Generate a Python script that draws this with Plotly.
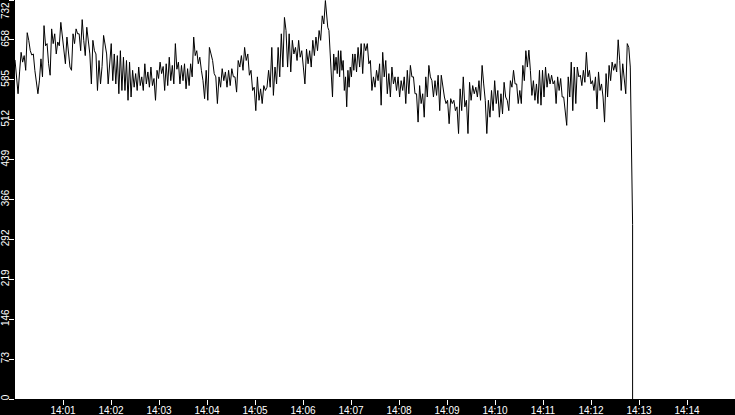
"""Rate trace 14:00-14:15, black-frame style."""

import pandas as pd
import plotly.graph_objects as go

# values, in time order, split into stretches whose
# start times were read off the time axis (seg_starts below)
seg_a = [622, 591, 560, 600, 636, 618, 630, 603, 672, 658, 639, 631, 633, 603,
         575, 560, 585, 624, 591, 685, 648, 652, 615, 594, 679, 652, 670, 633,
         655, 648, 691, 664, 639, 615, 664, 633, 609, 603, 670, 652, 679, 670,
         670, 639, 696, 658, 630, 682, 658, 633, 578, 658, 639, 633, 566, 621,
         578, 610, 667, 645, 633, 578, 620, 652, 584, 633, 578, 630, 560, 639,
         566, 627, 566, 621, 548, 618, 554, 603, 572, 597, 566, 609, 575, 591,
         566, 615, 578, 600, 572, 609, 575, 588, 548, 603, 588, 618, 597, 610,
         566, 615, 575, 627, 584, 612, 578, 652, 605, 618, 578, 612, 584, 615,
         569, 606, 575, 615, 591, 664, 630, 639, 615]
seg_b = [627, 603, 584, 551, 603, 548, 645, 633, 621, 597, 591, 542, 591, 572,
         606, 584, 600, 572, 603, 575, 606, 591, 591, 563, 621, 609, 630, 603,
         645, 621, 633, 594, 603, 566, 572, 529, 591, 548, 569, 542, 575, 566,
         572, 603, 572, 645, 557]
seg_c = [609, 578, 645, 591, 670, 609, 700, 676, 609, 670, 600, 658, 633, 645,
         621, 658, 627, 639, 609, 578, 642, 615, 639, 609, 658, 630, 664, 639,
         676, 658, 703, 688]
seg_d = [731, 707, 682, 676, 639, 609, 554, 633, 603, 627, 597, 639, 591, 639,
         603, 621, 566, 591, 536, 603, 572, 609, 591, 633, 603]
seg_e = [633, 600, 645, 609, 652, 597, 652, 639, 652, 615, 621, 566, 591, 572,
         603, 584, 615, 539, 636, 591, 621, 560, 597, 554, 609, 578, 591, 566,
         591, 554, 584, 566, 591, 542, 603, 560, 612, 591, 591, 560, 560, 508,
         575, 542, 560, 517, 591, 554, 612, 591, 584, 554]
seg_f = [584, 557, 594, 529, 594, 572, 554, 542, 548, 505, 551, 542, 548, 529,
         536, 487, 569, 529, 591, 536, 548, 487, 581, 548, 575, 560, 572, 554,
         584, 548, 612, 578, 548, 487, 548, 517, 566, 529, 584, 542, 566, 517,
         560, 523, 581, 554, 548, 529, 584, 572, 603, 578, 578, 542]
seg_g = [566, 542, 612, 584, 639, 609, 640, 603, 557, 584, 548, 578, 542, 603,
         539, 603, 554, 609, 572, 597, 578, 594, 578, 584, 542, 591, 566, 588,
         554, 554, 520, 502, 591, 554, 618, 529, 609, 542, 609, 591, 594, 575,
         603, 581, 636, 591, 603, 578, 584, 566, 591, 532, 600, 566, 578, 554,
         508, 597, 554, 612, 584, 618, 603, 615, 600, 659, 621, 566, 615, 591,
         560, 652, 645, 609]
seg_starts = ["14:00:00", "14:03:51", "14:05:25", "14:06:28", "14:07:05",
              "14:08:45", "14:10:31", "14:12:51"]  # last entry = end of seg_g
drop_time = "14:12:52"
drop_values = [320, 0]

x_tick_labels = ["14:01", "14:02", "14:03", "14:04", "14:05", "14:06", "14:07",
                 "14:08", "14:09", "14:10", "14:11", "14:12", "14:13", "14:14"]
y_tick_values = [0, 73.2, 146.4, 219.6, 292.8, 366, 439.2, 512.4, 585.6, 658.8, 732]
y_tick_labels = ["0", "73", "146", "219", "292", "366", "439", "512", "585", "658", "732"]

DAY = "2024-01-01 "
segments = [seg_a, seg_b, seg_c, seg_d, seg_e, seg_f, seg_g]
times, values = [], []
for i, seg in enumerate(segments):
    span = pd.date_range(DAY + seg_starts[i], DAY + seg_starts[i + 1], periods=len(seg) + 1)
    times.extend(span[:-1])
    values.extend(seg)
times.extend([pd.Timestamp(DAY + drop_time)] * len(drop_values))
values.extend(drop_values)

x_ticks = [pd.Timestamp(DAY + t) for t in x_tick_labels]

fig = go.Figure(
    go.Scatter(x=times, y=values, mode="lines",
               line=dict(color="black", width=1), hoverinfo="skip")
)

axis_font = dict(family="Liberation Sans", size=10, color="white")
fig.update_xaxes(
    range=[pd.Timestamp(DAY + "14:00:00"), pd.Timestamp(DAY + "14:15:00")],
    tickvals=x_ticks, ticktext=x_tick_labels,
    ticks="outside", ticklen=5, tickcolor="white", tickwidth=1,
    tickfont=axis_font, ticklabelstandoff=-3,
    showgrid=False, zeroline=False, showline=False, automargin=False,
)
# the top label is drawn as an annotation so it can sit inside the frame
fig.update_yaxes(
    range=[0, 732], tickvals=y_tick_values, ticktext=y_tick_labels[:-1] + [""],
    tickangle=-90, ticks="outside", ticklen=5, tickcolor="white", tickwidth=1,
    tickfont=axis_font, ticklabelstandoff=-4,
    showgrid=False, zeroline=False, showline=False, automargin=False,
)
fig.add_annotation(
    text=y_tick_labels[-1], textangle=-90, font=axis_font,
    xref="paper", x=0, xanchor="right", xshift=-3,
    yref="y", y=732, yanchor="top", yshift=-1,
    showarrow=False, borderpad=0,
)
fig.update_layout(
    width=735, height=415,
    margin=dict(l=15, r=0, t=0, b=16),
    paper_bgcolor="black", plot_bgcolor="white",
    showlegend=False,
)

# drop the browser's default page margin so the figure fills the window
fig.write_html("out.html", config={"displayModeBar": False},
               post_script="document.body.style.margin = '0';")
